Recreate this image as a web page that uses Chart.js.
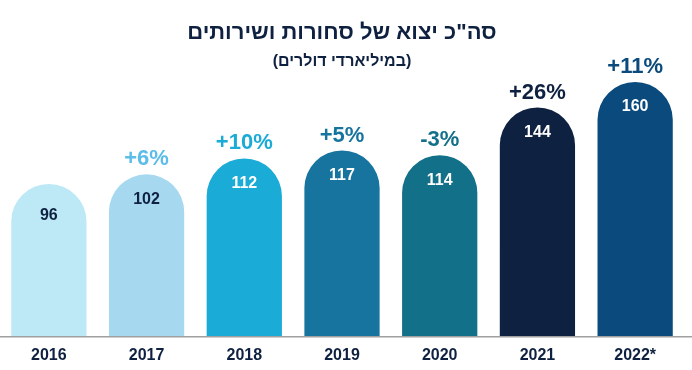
<!DOCTYPE html>
<html dir="ltr">
<head>
<meta charset="utf-8">
<script src="https://cdn.jsdelivr.net/npm/chart.js@4"></script>
<style>
  html, body { margin: 0; padding: 0; background: #fff; }
  #wrap { width: 692px; height: 370px; }
</style>
</head>
<body>
<div id="wrap"><canvas id="exportChart" dir="ltr"></canvas></div>
<script>
// נתונים
const years = ['2016', '2017', '2018', '2019', '2020', '2021', '2022*'];
const exportValues = [96, 102, 112, 117, 114, 144, 160];
const changeLabels = ['', '+6%', '+10%', '+5%', '-3%', '+26%', '+11%'];

const barColors = ['#bde9f6', '#a6d9f0', '#1aabd6', '#17749f', '#127089', '#0f2140', '#0a4a7c'];
const changeColors = ['#000', '#5cbde8', '#1aabd6', '#17749f', '#127089', '#0f2140', '#0a4a7c'];
const valueColors = ['#0f2140', '#0f2140', '#fff', '#fff', '#fff', '#fff', '#fff'];

const FONT = "'Liberation Sans', Arial, sans-serif";

const labelsPlugin = {
    id: 'barLabels',
    afterDatasetsDraw(chart) {
        const ctx = chart.ctx;
        const meta = chart.getDatasetMeta(0);
        const zeroY = chart.scales.y.getPixelForValue(0);
        ctx.save();
        ctx.direction = 'ltr';
        // קו בסיס
        ctx.strokeStyle = '#a0a0a0';
        ctx.lineWidth = 1.5;
        ctx.beginPath();
        ctx.moveTo(0, zeroY);
        ctx.lineTo(chart.width, zeroY);
        ctx.stroke();

        ctx.textAlign = 'center';
        ctx.textBaseline = 'middle';
        meta.data.forEach((bar, i) => {
            ctx.font = 'bold 16px ' + FONT;
            ctx.fillStyle = valueColors[i];
            ctx.fillText(String(exportValues[i]), bar.x, bar.y + (i === 0 ? 32 : 25));
            if (changeLabels[i]) {
                ctx.font = 'bold 22px ' + FONT;
                ctx.fillStyle = changeColors[i];
                ctx.fillText(changeLabels[i], bar.x, bar.y - 15);
            }
        });
        ctx.restore();
    }
};

new Chart('exportChart', {
    type: 'bar',
    data: {
        labels: years,
        datasets: [{
            data: exportValues,
            backgroundColor: barColors,
            borderRadius: { topLeft: 60, topRight: 60 },
            borderSkipped: 'bottom',
            barPercentage: 0.77,
            categoryPercentage: 1
        }]
    },
    options: {
        responsive: true,
        maintainAspectRatio: false,
        animation: false,
        layout: { padding: { left: 0, right: 8, top: 0, bottom: 4 } },
        plugins: {
            legend: { display: false },
            tooltip: { enabled: false },
            title: {
                display: true,
                text: 'סה"כ יצוא של סחורות ושירותים',
                color: '#0f2140',
                font: { family: FONT, size: 22, weight: 'bold' },
                padding: { top: 20, bottom: 0 }
            },
            subtitle: {
                display: true,
                text: '(במיליארדי דולרים)',
                color: '#0f2140',
                font: { family: FONT, size: 16, weight: 'bold' },
                padding: { top: 6, bottom: 0 }
            }
        },
        scales: {
            x: {
                grid: { display: false },
                border: { display: false },
                ticks: {
                    color: '#0f2140',
                    padding: 1,
                    font: { family: FONT, size: 16, weight: 'bold' }
                }
            },
            y: {
                display: false,
                min: 0,
                max: 166.5
            }
        }
    },
    plugins: [labelsPlugin]
});
</script>
</body>
</html>
